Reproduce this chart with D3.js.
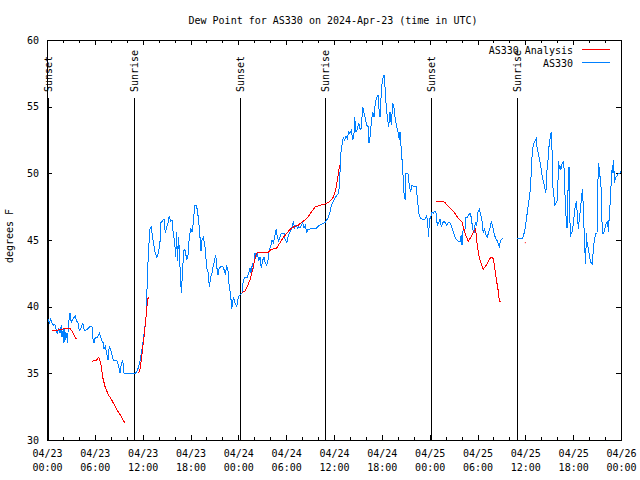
<!DOCTYPE html>
<html><head><meta charset="utf-8">
<script src="https://cdn.jsdelivr.net/npm/d3@7"></script>
<style>
html,body{margin:0;padding:0;background:#fff;}
text{font-family:"DejaVu Sans Mono","Liberation Mono",monospace;font-size:10px;fill:#000;}
</style></head>
<body><svg id="c" width="640" height="480"></svg>
<script>
// ---- data (hours since 2024-04-23 00:00 UTC, dew point °F) ----
const title = "Dew Point for AS330 on 2024-Apr-23 (time in UTC)";
const yLabel = "degrees F";
const seriesNames = ["AS330 Analysis", "AS330"];
const seriesColors = ["#ff0000", "#0080ff"];
const startDate = Date.UTC(2024, 3, 23, 0, 0);
const xDomainHours = [0, 72];
const yDomain = [30, 60];
const yTicks = [30, 35, 40, 45, 50, 55, 60];
const sunEvents = [
  {h: 0.13, label: "Sunset"}, {h: 10.95, label: "Sunrise"},
  {h: 24.21, label: "Sunset"}, {h: 34.87, label: "Sunrise"},
  {h: 48.17, label: "Sunset"}, {h: 58.99, label: "Sunrise"}
];
const obsPart1 = [[0.16,39.1],[0.29,38.8],[0.46,39.1],[0.63,38.8],[0.79,38.6],[0.97,38.7],[1.13,38.3],[1.29,38.0],[1.47,38.3],[1.63,38.0],[1.79,38.6],[1.88,37.7],[2.04,38.3],[2.13,37.3],[2.22,38.4],[2.35,37.5],[2.47,38.0],[2.55,37.3],[2.72,38.8],[2.89,39.5],[3.05,38.8],[3.22,39.0],[3.39,39.2],[3.55,39.3],[3.73,38.9],[3.89,38.8],[4.05,38.2],[4.23,38.3],[4.48,38.8],[4.64,38.3],[4.80,38.2],[5.06,38.3],[5.39,38.5],[5.64,38.5],[5.73,37.7],[5.90,37.3],[6.06,37.7],[6.31,37.7],[6.56,38.0],[6.74,37.7],[6.90,37.4],[7.06,37.3],[7.15,36.8],[7.31,37.0],[7.49,36.5],[7.65,36.0],[7.81,37.0],[7.99,36.8],[8.15,36.4],[8.32,36.0],[8.57,36.0],[8.82,35.9],[8.99,35.5],[9.16,35.0],[9.32,35.7],[9.50,36.0],[9.66,35.0],[11.04,35.0],[11.25,35.1],[11.50,35.5],[11.67,35.9],[11.83,36.5],[12.08,37.5],[12.26,38.4],[12.42,39.2],[12.54,41.3],[12.63,42.4],[12.70,44.0],[12.92,45.8],[13.05,46.0],[13.17,45.5],[13.33,44.9],[13.55,44.1],[13.76,43.7],[13.96,44.0],[14.17,44.8],[14.30,46.3],[14.46,46.4],[14.68,46.6],[14.84,45.5],[15.02,46.0],[15.18,46.3],[15.34,46.8],[15.52,46.4],[15.68,46.5],[15.84,45.5],[16.02,44.8],[16.14,43.7],[16.27,45.6],[16.35,43.4],[16.52,45.2],[16.68,43.0],[16.85,41.0],[17.02,42.9],[17.19,44.3],[17.35,44.2],[17.52,43.5],[17.69,43.9],[17.85,45.2],[18.03,45.9],[18.19,45.6],[18.35,46.3],[18.53,47.6],[18.69,47.6],[18.85,47.3],[19.03,46.4],[19.19,45.2],[19.32,44.2],[19.44,45.0],[19.61,45.2],[19.82,44.5],[20.03,42.9],[20.20,42.6],[20.36,41.5],[20.53,42.2],[20.70,42.5],[20.86,43.1],[21.04,43.5],[21.16,43.9],[21.29,43.0],[21.45,42.4],[21.61,42.9],[21.79,43.0],[22.04,43.0],[22.20,42.8],[22.37,42.4],[22.54,43.1],[22.70,42.7],[22.87,41.4],[23.04,40.9],[23.17,39.8],[23.37,40.7],[23.58,40.3],[23.80,40.0],[24.0,40.7],[24.21,40.9],[24.46,41.0],[24.62,42.0],[24.84,42.2],[25.13,42.2],[25.30,42.5],[25.46,42.9],[25.63,42.4],[25.75,43.3],[25.88,42.8],[26.09,44.0],[26.22,43.7],[26.38,44.0],[26.56,43.5],[26.72,43.7],[26.88,42.9],[27.06,43.5],[27.22,43.7],[27.38,43.3],[27.56,43.1],[27.72,43.5],[27.89,44.3],[28.06,44.5],[28.22,45.0],[28.39,44.8],[28.56,45.2],[28.73,45.8],[28.89,45.2],[29.06,44.9],[29.23,45.2],[29.39,45.5],[29.57,45.5],[29.73,45.5],[29.89,45.0],[30.07,44.8],[30.23,45.2],[30.39,45.5],[30.57,45.7],[30.73,46.0],[30.90,46.4],[31.07,45.9],[31.24,46.1],[31.40,45.9],[31.57,46.0],[31.74,45.9],[31.90,46.1],[32.08,46.3],[32.24,45.9],[32.40,46.1],[32.58,45.6],[32.74,45.8],[32.90,45.8],[33.20,45.9],[33.83,45.9],[34.16,46.1],[34.46,46.2],[34.87,46.3],[35.09,46.5],[35.29,46.7],[35.50,47.1],[35.66,47.6],[35.91,47.9],[36.17,48.2],[36.42,48.4],[36.59,48.5],[36.75,50.0],[36.84,51.4],[37.0,52.1],[37.17,52.7],[37.34,52.5],[37.51,52.8],[37.67,52.6],[37.85,53.1],[38.01,53.0],[38.17,53.2],[38.35,52.5],[38.51,53.0],[38.60,54.2],[38.76,53.1],[38.92,53.3],[39.10,53.8],[39.26,53.3],[39.43,53.4],[39.60,55.0],[39.76,54.5],[39.93,54.1],[40.10,53.6],[40.27,53.5],[40.39,52.3],[40.52,52.7],[40.68,53.8],[40.86,54.6],[41.02,54.2],[41.18,55.3],[41.36,55.7],[41.52,55.9],[41.61,55.0],[41.77,54.2],[41.93,56.0],[42.06,57.0],[42.18,57.2],[42.27,57.4],[42.40,56.5],[42.52,55.3],[42.69,54.2],[42.86,53.5],[43.02,54.6],[43.19,53.6],[43.36,55.3],[43.53,54.9],[43.69,54.0],[43.87,53.5],[44.03,53.1],[44.19,52.5],[44.28,53.1],[44.44,51.8],[44.62,50.3],[44.78,48.5],[44.94,48.0],[45.03,50.0],[45.28,50.0],[45.45,49.0],[45.62,48.6],[45.79,49.1],[46.04,49.0],[46.29,49.0],[46.45,48.2],[46.63,47.0],[46.79,46.7],[46.95,46.6],[47.20,46.5],[47.45,46.6],[47.63,46.9],[47.79,45.9],[47.88,45.2],[47.95,46.5],[48.13,46.7],[48.29,47.1],[48.46,47.0],[48.67,47.2],[48.80,47.0],[48.96,46.1],[49.13,46.3],[49.30,46.6],[49.46,46.0],[49.64,46.3],[49.80,46.4],[49.96,46.3],[50.14,46.1],[50.34,46.3],[50.55,46.3],[50.76,46.0],[50.97,45.6],[51.18,45.2],[51.39,45.0],[51.60,44.9],[51.81,44.9],[51.97,45.4],[52.06,44.6],[52.22,46.0],[52.40,45.6],[52.56,46.7],[52.72,46.7],[52.90,46.9],[53.06,47.0],[53.22,46.7],[53.40,45.8],[53.56,45.5],[53.73,46.3],[53.90,46.1],[54.06,47.1],[54.23,47.3],[54.40,46.9],[54.57,46.4],[54.73,45.5],[54.90,45.8],[55.07,45.4],[55.23,45.2],[55.40,45.6],[55.57,45.9],[55.73,46.4],[55.91,46.0],[56.07,45.5],[56.23,45.2],[56.41,45.0],[56.57,44.8],[56.74,44.5],[56.91,45.0],[57.16,45.1]];
const obsPart2 = [[58.99,45.1],[59.62,45.1],[59.80,45.4],[59.96,45.8],[60.12,46.5],[60.30,47.3],[60.46,48.0],[60.63,48.8],[60.71,49.7],[60.80,50.8],[60.88,51.7],[61.05,52.2],[61.21,52.4],[61.38,52.6],[61.46,52.0],[61.63,51.5],[61.80,51.0],[61.97,50.4],[62.05,50.0],[62.22,49.5],[62.38,49.1],[62.47,48.8],[62.56,48.5],[62.63,49.0],[62.72,50.3],[62.88,51.2],[62.97,52.0],[63.06,52.4],[63.13,52.8],[63.26,53.1],[63.38,51.2],[63.47,48.9],[63.64,48.0],[63.72,47.6],[63.89,47.8],[64.06,48.0],[64.14,50.9],[64.22,50.3],[64.31,50.6],[64.47,50.3],[64.64,50.8],[64.81,50.9],[64.89,49.9],[64.98,48.3],[65.06,47.3],[65.14,46.4],[65.23,45.9],[65.31,48.0],[65.39,49.3],[65.48,50.5],[65.57,47.3],[65.64,45.2],[65.73,45.5],[65.89,45.6],[66.07,46.5],[66.23,47.4],[66.40,47.9],[66.48,47.3],[66.57,46.5],[66.65,45.8],[66.73,46.3],[66.90,47.3],[67.07,48.2],[67.15,48.8],[67.24,47.9],[67.32,46.0],[67.40,45.8],[67.48,44.1],[67.57,43.2],[67.65,45.5],[67.74,44.8],[67.90,44.4],[68.07,43.7],[68.24,43.3],[68.40,43.2],[68.49,44.0],[68.65,45.0],[68.83,45.5],[68.99,45.5],[69.08,48.2],[69.15,50.8],[69.24,50.5],[69.33,50.0],[69.49,49.0],[69.66,45.5],[69.83,45.5],[69.99,45.9],[70.16,46.3],[70.33,46.4],[70.41,45.6],[70.50,46.5],[70.66,48.0],[70.75,49.1],[70.91,50.6],[71.00,50.0],[71.09,51.0],[71.16,49.3],[71.34,49.7],[71.50,49.8],[71.67,50.0],[71.85,50.0],[72.0,50.2]];
const anaPart1 = [[0.63,38.2],[1.22,38.2],[1.54,38.3],[1.88,38.3],[2.30,38.4],[2.80,38.4],[2.97,38.3],[3.30,38.0],[3.64,37.6],[3.80,37.6]];
const anaPart2 = [[5.68,35.9],[6.23,36.0],[6.49,36.2],[6.74,35.8],[6.99,34.7],[7.28,34.0],[7.69,33.4],[8.12,33.0],[8.74,32.3],[9.37,31.7],[9.75,31.3]];
const anaPart3 = [[11.50,35.0],[11.67,35.3],[11.83,36.0],[12.0,36.9],[12.17,37.7],[12.38,39.0],[12.51,39.7],[12.58,40.4],[12.71,40.7],[12.83,40.7]];
const anaPart4 = [[24.42,41.0],[24.62,41.1],[24.87,41.2],[25.13,41.5],[25.30,41.8],[25.46,42.0],[25.63,42.4],[25.80,42.8],[25.97,43.3],[26.13,43.7],[26.31,44.0],[26.56,44.1],[27.13,44.1],[27.81,44.1],[28.14,44.3],[28.81,44.4],[29.23,44.8],[29.64,45.2],[30.07,45.5],[30.48,45.8],[30.98,46.0],[31.49,46.1],[31.90,46.3],[32.33,46.5],[32.83,46.8],[33.16,47.1],[33.66,47.5],[34.25,47.6],[34.87,47.7],[35.50,47.9],[35.91,48.2],[36.09,48.5],[36.25,48.9],[36.42,49.5],[36.59,50.1],[36.67,50.6]];
const anaPart5 = [[48.80,47.9],[49.64,47.9],[49.93,47.8],[50.34,47.5],[50.76,47.3],[51.18,47.0],[51.59,46.6],[52.02,46.4],[52.22,46.0],[52.43,45.5],[52.85,44.9],[53.15,45.2],[53.48,45.6],[53.73,45.8],[53.82,45.5],[53.98,44.5],[54.23,43.7],[54.53,43.1],[54.73,42.8],[55.07,43.1],[55.36,43.4],[55.66,43.7],[55.91,43.7],[56.07,43.3],[56.32,42.2],[56.57,41.3],[56.74,40.4],[56.91,40.4]];
const anaSingle = [[60.0,44.8]];

// ---- drawing ----
const svg = d3.select("#c");
const L = 47, R = 621, T = 40, B = 440;
const toDate = h => new Date(startDate + h * 3600000);
const x = d3.scaleUtc().domain(xDomainHours.map(toDate)).range([L, R]);
const y = d3.scaleLinear().domain(yDomain).range([B, T]);

const majorX = d3.range(0, 73, 6).map(toDate);
const minorX = d3.range(0, 73, 2).filter(h => h % 6 !== 0).map(toDate);

// bottom major ticks with labels
const gxb = svg.append("g").attr("transform", `translate(0,${B})`)
  .call(d3.axisBottom(x).tickValues(majorX).tickSizeInner(-5).tickSizeOuter(0).tickPadding(0)
    .tickFormat(d3.utcFormat("%m/%d|%H:%M")));
gxb.select(".domain").remove();
gxb.selectAll(".tick text").each(function(d) {
  const t = d3.select(this), parts = t.text().split("|");
  t.text(null).attr("y", 17).attr("dy", null)
    .attr("font-family", '"DejaVu Sans Mono","Liberation Mono",monospace').attr("font-size", 10);
  t.append("tspan").attr("x", 0).text(parts[0]);
  t.append("tspan").attr("x", 0).attr("dy", 14).text(parts[1]);
});
const gxbm = svg.append("g").attr("transform", `translate(0,${B})`)
  .call(d3.axisBottom(x).tickValues(minorX).tickSizeInner(-3).tickSizeOuter(0).tickFormat(""));
gxbm.select(".domain").remove();
// top mirrored ticks
const gxt = svg.append("g").attr("transform", `translate(0,${T})`)
  .call(d3.axisTop(x).tickValues(majorX).tickSizeInner(-5).tickSizeOuter(0).tickFormat(""));
gxt.select(".domain").remove();
const gxtm = svg.append("g").attr("transform", `translate(0,${T})`)
  .call(d3.axisTop(x).tickValues(minorX).tickSizeInner(-3).tickSizeOuter(0).tickFormat(""));
gxtm.select(".domain").remove();
// y axes
const gyl = svg.append("g").attr("transform", `translate(${L},0)`)
  .call(d3.axisLeft(y).tickValues(yTicks).tickSizeInner(-5).tickSizeOuter(0).tickPadding(8).tickFormat(d3.format("d")));
gyl.select(".domain").remove();
gyl.selectAll(".tick text").attr("font-family", '"DejaVu Sans Mono","Liberation Mono",monospace').attr("font-size", 10);
const gyr = svg.append("g").attr("transform", `translate(${R},0)`)
  .call(d3.axisRight(y).tickValues(yTicks).tickSizeInner(-5).tickSizeOuter(0).tickFormat(""));
gyr.select(".domain").remove();
svg.selectAll(".tick line").attr("stroke", "#000").attr("shape-rendering", "crispEdges");

// frame
svg.append("rect").attr("x", L + 0.5).attr("y", T + 0.5).attr("width", R - L).attr("height", B - T)
  .attr("fill", "none").attr("stroke", "#000").attr("stroke-width", 1).attr("shape-rendering", "crispEdges");

// sun lines + labels
const sg = svg.append("g");
sunEvents.forEach(e => {
  const px = Math.round(x(toDate(e.h))) + 0.5;
  sg.append("line").attr("x1", px).attr("x2", px).attr("y1", 98).attr("y2", B)
    .attr("stroke", "#000").attr("stroke-width", 1).attr("shape-rendering", "crispEdges");
  sg.append("text").attr("transform", `translate(${px},92) rotate(-90)`)
    .attr("text-anchor", "start").attr("dy", "0.35em").text(e.label);
});

// series
const line = d3.line().x(d => x(toDate(d[0]))).y(d => y(d[1]));
[obsPart1, obsPart2].forEach(p => svg.append("path").datum(p).attr("d", line)
  .attr("fill", "none").attr("stroke", seriesColors[1]).attr("stroke-width", 1)
  .attr("shape-rendering", "crispEdges"));
[anaPart1, anaPart2, anaPart3, anaPart4, anaPart5].forEach(p => svg.append("path").datum(p).attr("d", line)
  .attr("fill", "none").attr("stroke", seriesColors[0]).attr("stroke-width", 1)
  .attr("shape-rendering", "crispEdges"));
svg.selectAll(".dot").data(anaSingle).enter().append("rect")
  .attr("x", d => x(toDate(d[0])) - 0.5).attr("y", d => y(d[1]) - 0.5).attr("width", 1).attr("height", 1)
  .attr("fill", seriesColors[0]);

// legend
seriesNames.forEach((n, i) => {
  const ly = 49.5 + i * 13;
  svg.append("text").attr("x", 573).attr("y", ly + 4).attr("text-anchor", "end").text(n);
  svg.append("line").attr("x1", 582).attr("x2", 610).attr("y1", ly).attr("y2", ly)
    .attr("stroke", seriesColors[i]).attr("stroke-width", 1).attr("shape-rendering", "crispEdges");
});

// title & y label
svg.append("text").attr("x", 333).attr("y", 24).attr("text-anchor", "middle").text(title);
svg.append("text").attr("transform", "translate(13,236) rotate(-90)").attr("text-anchor", "middle").text(yLabel);
</script></body></html>
